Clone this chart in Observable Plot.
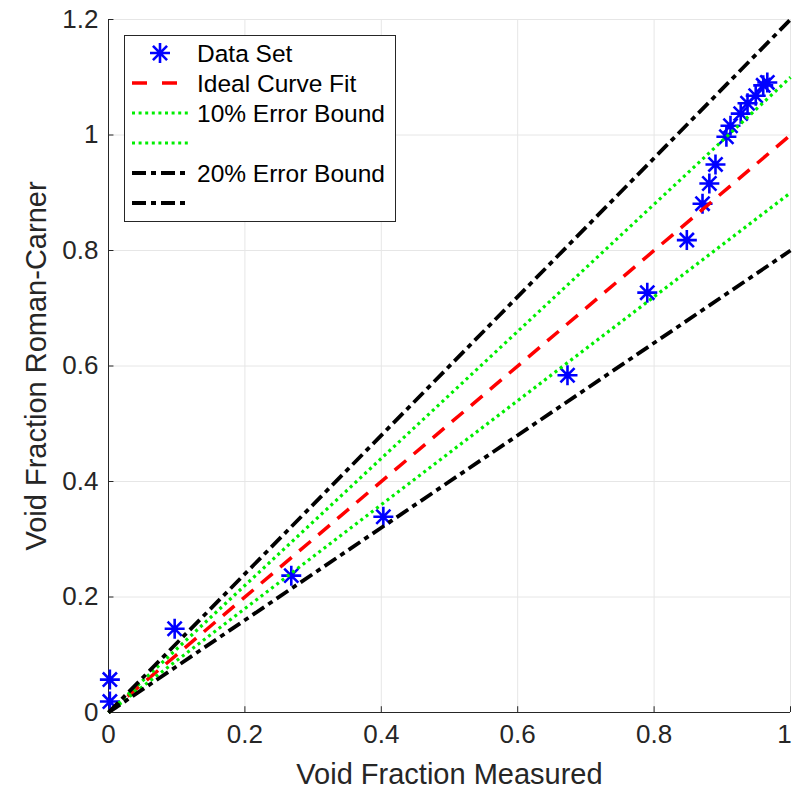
<!DOCTYPE html>
<html>
<head>
<meta charset="utf-8">
<script src="https://cdn.jsdelivr.net/npm/d3@7"></script>
<script src="https://cdn.jsdelivr.net/npm/@observablehq/plot@0.6"></script>
<style>
  body { margin: 0; background: #fff; }
  #wrap { position: relative; width: 792px; height: 789px; font-family: "Liberation Sans", Arial, Helvetica, sans-serif; }
  #legend { position: absolute; left: 124px; top: 35px; }
</style>
</head>
<body>
<div id="wrap"></div>
<script>
// ---- data ----
const measured = [0.002, 0.002, 0.097, 0.268, 0.403, 0.673, 0.790, 0.848, 0.871, 0.881, 0.890, 0.906, 0.912, 0.927, 0.937, 0.949, 0.960, 0.966];
const romanCarner = [0.057, 0.019, 0.145, 0.237, 0.339, 0.584, 0.727, 0.818, 0.881, 0.916, 0.949, 0.997, 1.016, 1.037, 1.055, 1.068, 1.086, 1.091];
const lineX = [0, 1];
const idealFactor = [1];
const tenPctFactors = [1.1, 0.9];
const twentyPctFactors = [1.2, 0.8];
const xTicks = [0, 0.2, 0.4, 0.6, 0.8, 1];
const yTicks = [0, 0.2, 0.4, 0.6, 0.8, 1, 1.2];
const legendLabels = ["Data Set", "Ideal Curve Fit", "10% Error Bound", "", "20% Error Bound", ""];

// ---- derived tables ----
const points = measured.map((x, i) => ({x, y: romanCarner[i]}));
const mkLines = (factors) => factors.flatMap((k, j) => lineX.map(x => ({x, y: k * x, id: j})));
const idealLine = mkLines(idealFactor);
const tenLines = mkLines(tenPctFactors);
const twentyLines = mkLines(twentyPctFactors);

const asterisk = {
  draw(ctx, size) {
    const r = Math.sqrt(size / Math.PI);
    const d = r * Math.SQRT1_2;
    ctx.moveTo(0, -r); ctx.lineTo(0, r);
    ctx.moveTo(-r, 0); ctx.lineTo(r, 0);
    ctx.moveTo(-d, -d); ctx.lineTo(d, d);
    ctx.moveTo(-d, d); ctx.lineTo(d, -d);
  }
};

const AX = "#262626";
const GRID = "#e6e6e6";
const FONT = '"Liberation Sans", Arial, Helvetica, sans-serif';
const RED = {stroke: "#ff0000", w: 3.5, dash: "15,10"};
const GREEN = {stroke: "#00ee00", w: 3.2, dash: "3,3.6"};
const BLACK = {stroke: "#000000", w: 3.8, dash: "14,5,5,5"};
const fmt = d => String(d);
const xTicksMain = xTicks.slice(0, -1);
const xTicksLast = xTicks.slice(-1);

const chart = Plot.plot({
  width: 792,
  height: 789,
  marginLeft: 108,
  marginRight: 2,
  marginTop: 19,
  marginBottom: 77,
  style: {fontFamily: FONT, fontSize: "26px", color: AX, background: "#fff"},
  x: {domain: [0, 1]},
  y: {domain: [0, 1.2]},
  marks: [
    Plot.ruleX(xTicks, {x: d => d, stroke: GRID, strokeWidth: 1}),
    Plot.ruleY(yTicks, {y: d => d, stroke: GRID, strokeWidth: 1}),
    Plot.axisX(xTicksMain, {tickSize: 0, tickPadding: 12, fontSize: 26, fill: AX, tickFormat: fmt, label: "Void Fraction Measured", labelAnchor: "center", labelArrow: "none", labelOffset: 71}),
    Plot.axisX(xTicksLast, {tickSize: 0, tickPadding: 12, fontSize: 26, fill: AX, tickFormat: fmt, label: null, dx: -6}),
    Plot.axisY(yTicks, {tickSize: 0, tickPadding: 10, fontSize: 26, fill: AX, tickFormat: fmt, label: "Void Fraction Roman-Carner", labelAnchor: "center", labelArrow: "none", labelOffset: 83}),
    Plot.ruleX(xTicks, {x: d => d, y1: 0, y2: 0.01, stroke: AX, strokeWidth: 1}),
    Plot.ruleY(yTicks, {y: d => d, x1: 0, x2: 0.008, stroke: AX, strokeWidth: 1}),
    Plot.ruleY([0], {stroke: AX, strokeWidth: 1}),
    Plot.ruleX([0], {stroke: AX, strokeWidth: 1}),
    Plot.dot(points, {x: "x", y: "y", symbol: asterisk, r: 10, stroke: "#0000ff", strokeWidth: 2.6, fill: "none"}),
    Plot.line(idealLine, {x: "x", y: "y", z: "id", stroke: RED.stroke, strokeWidth: RED.w, strokeDasharray: RED.dash, strokeLinecap: "butt"}),
    Plot.line(tenLines, {x: "x", y: "y", z: "id", stroke: GREEN.stroke, strokeWidth: GREEN.w, strokeDasharray: GREEN.dash, strokeLinecap: "butt"}),
    Plot.line(twentyLines, {x: "x", y: "y", z: "id", stroke: BLACK.stroke, strokeWidth: BLACK.w, strokeDasharray: BLACK.dash, strokeLinecap: "butt"})
  ]
});

document.getElementById("wrap").appendChild(chart);
// axis titles slightly larger than tick labels
d3.select(chart).selectAll('g[aria-label="x-axis label"] text, g[aria-label="y-axis label"] text')
  .attr("font-size", 29).style("font-size", "29px");

// ---- legend ----
const lw = 272, lh = 187;
const leg = d3.select("#wrap").append("svg").attr("id", "legend").attr("width", lw).attr("height", lh);
leg.append("rect").attr("x", 0.5).attr("y", 0.5).attr("width", lw - 1).attr("height", lh - 1).attr("fill", "#fff").attr("stroke", AX).attr("stroke-width", 1);
const rowY = i => 18 + i * 30;
const styles = [null, {...RED, dash: "15,15"}, GREEN, GREEN, BLACK, BLACK];
legendLabels.forEach((lab, i) => {
  const y = rowY(i);
  if (i === 0) {
    const r = 10, d = r * Math.SQRT1_2, cx = 36;
    leg.append("path")
      .attr("d", `M${cx},${y - r}L${cx},${y + r}M${cx - r},${y}L${cx + r},${y}M${cx - d},${y - d}L${cx + d},${y + d}M${cx - d},${y + d}L${cx + d},${y - d}`)
      .attr("stroke", "#0000ff").attr("stroke-width", 2.6).attr("fill", "none");
  } else {
    const s = styles[i];
    leg.append("line").attr("x1", 8).attr("x2", 66).attr("y1", y).attr("y2", y)
      .attr("stroke", s.stroke).attr("stroke-width", s.w).attr("stroke-dasharray", s.dash);
  }
  if (lab) {
    leg.append("text").attr("x", 73).attr("y", y).attr("dy", "0.36em")
      .attr("font-size", 24.5).attr("fill", "#000")
      .attr("font-family", FONT)
      .text(lab);
  }
});
</script>
</body>
</html>
